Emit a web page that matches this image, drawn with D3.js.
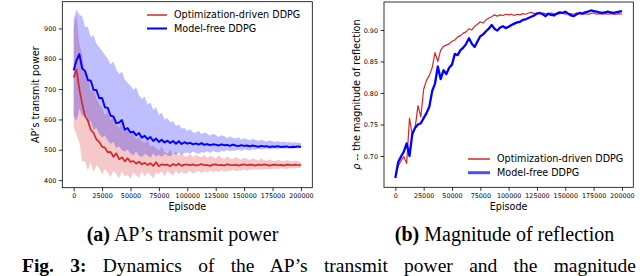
<!DOCTYPE html>
<html>
<head>
<meta charset="utf-8">
<script src="https://cdn.jsdelivr.net/npm/d3@7"></script>
<style>
  html, body { margin: 0; padding: 0; background: #fff; }
  svg { display: block; }
  .tick text { font-family: "DejaVu Sans", sans-serif; }
</style>
</head>
<body>
<div id="chart"></div>
<script>
// episodes sampled every 2500
const episodes = [0, 2500, 5000, 7500, 10000, 12500, 15000, 17500, 20000, 22500, 25000, 27500, 30000, 32500, 35000, 37500, 40000, 42500, 45000, 47500,
  50000, 52500, 55000, 57500, 60000, 62500, 65000, 67500, 70000, 72500, 75000, 77500, 80000, 82500, 85000, 87500, 90000, 92500, 95000, 97500,
  100000, 102500, 105000, 107500, 110000, 112500, 115000, 117500, 120000, 122500, 125000, 127500, 130000, 132500, 135000, 137500, 140000, 142500, 145000, 147500,
  150000, 152500, 155000, 157500, 160000, 162500, 165000, 167500, 170000, 172500, 175000, 177500, 180000, 182500, 185000, 187500, 190000, 192500, 195000, 197500, 200000];

const xTicks = [0, 25000, 50000, 75000, 100000, 125000, 150000, 175000, 200000];
const powerTicks = [400, 500, 600, 700, 800, 900];
const rhoTicks = [0.70, 0.75, 0.80, 0.85, 0.90];

// (a) AP's transmit power -- optimization-driven DDPG
const optPower = [738, 765, 700, 652, 610, 596, 566, 556, 534, 526, 510, 507, 492, 493, 477, 488, 469, 475, 462, 472,
  460, 463, 454, 461, 452, 457, 450, 456, 447, 459, 446, 452, 450, 451, 446, 453, 448, 454, 447, 451,
  451, 449, 452, 448, 450, 453, 449, 450, 447, 451, 452, 449, 450, 448, 452, 450, 449, 451, 448, 450,
  452, 449, 451, 450, 448, 451, 449, 452, 450, 448, 450, 451, 449, 450, 448, 451, 450, 449, 451, 449, 450];
const optPowerHi = [905, 945, 850, 815, 750, 748, 690, 705, 668, 650, 640, 615, 625, 598, 610, 585, 572, 592, 560, 568,
  548, 562, 535, 540, 528, 522, 534, 510, 515, 505, 498, 512, 492, 488, 500, 484, 494, 480, 490, 478,
  478, 486, 476, 483, 479, 475, 484, 472, 480, 477, 471, 481, 474, 470, 478, 472, 469, 476, 471, 467,
  474, 470, 466, 472, 468, 465, 471, 466, 464, 469, 465, 463, 467, 464, 462, 466, 463, 461, 464, 462, 460];
const optPowerLo = [575, 548, 525, 462, 462, 432, 458, 425, 450, 440, 418, 436, 425, 410, 432, 420, 405, 428, 412, 418,
  404, 427, 415, 408, 428, 412, 426, 418, 405, 425, 420, 429, 412, 430, 422, 416, 431, 419, 428, 421,
  424, 430, 421, 427, 431, 423, 429, 425, 432, 426, 430, 427, 433, 428, 431, 429, 434, 430, 432, 431,
  435, 432, 434, 433, 436, 434, 435, 435, 437, 436, 437, 438, 436, 439, 438, 437, 440, 438, 441, 439, 440];

// (a) AP's transmit power -- model-free DDPG
const freePower = [762, 795, 815, 768, 760, 730, 728, 698, 697, 670, 671, 640, 638, 612, 610, 588, 590, 598, 566, 572,
  557, 560, 548, 555, 540, 546, 535, 542, 529, 537, 526, 533, 524, 530, 522, 529, 520, 528, 519, 525,
  520, 523, 518, 521, 517, 522, 516, 519, 515, 518, 517, 514, 518, 515, 516, 513, 517, 514, 512, 515,
  513, 514, 511, 514, 512, 510, 513, 511, 512, 509, 511, 510, 512, 509, 510, 511, 508, 510, 509, 511, 509];
const freePowerHi = [930, 962, 945, 940, 905, 905, 872, 878, 850, 838, 826, 812, 800, 782, 790, 765, 750, 758, 732, 720,
  712, 698, 705, 680, 668, 675, 650, 655, 632, 640, 615, 622, 600, 605, 590, 595, 578, 583, 570, 572,
  562, 568, 558, 556, 563, 551, 557, 554, 546, 553, 549, 542, 548, 545, 538, 544, 540, 537, 541, 534,
  538, 535, 531, 536, 532, 529, 533, 530, 527, 531, 528, 526, 529, 525, 527, 524, 526, 523, 525, 523, 522];
const freePowerLo = [612, 595, 635, 612, 615, 590, 595, 565, 572, 552, 540, 548, 530, 520, 525, 505, 512, 498, 494, 500,
  488, 482, 494, 480, 476, 486, 482, 474, 488, 478, 484, 476, 486, 482, 478, 488, 484, 490, 483, 489,
  491, 487, 494, 489, 486, 493, 490, 495, 489, 496, 493, 491, 497, 494, 499, 495, 498, 497, 500, 496,
  501, 499, 498, 502, 500, 503, 501, 502, 504, 501, 503, 504, 502, 505, 503, 504, 505, 503, 506, 504, 505];

// (b) magnitude of reflection
const optRho = [0.667, 0.684, 0.692, 0.699, 0.688, 0.760, 0.733, 0.745, 0.780, 0.762, 0.806, 0.820, 0.828, 0.840, 0.864, 0.850, 0.868, 0.874, 0.876, 0.878,
  0.882, 0.884, 0.889, 0.891, 0.895, 0.897, 0.902, 0.900, 0.906, 0.909, 0.913, 0.911, 0.916, 0.919, 0.921, 0.924, 0.922, 0.924, 0.923, 0.925,
  0.924, 0.925, 0.923, 0.925, 0.924, 0.926, 0.925, 0.927, 0.928, 0.926, 0.927, 0.926, 0.927, 0.926, 0.925, 0.927, 0.926, 0.925, 0.926, 0.927,
  0.925, 0.926, 0.926, 0.925, 0.927, 0.926, 0.925, 0.926, 0.925, 0.926, 0.927, 0.925, 0.926, 0.925, 0.926, 0.925, 0.926, 0.925, 0.925, 0.926, 0.925];
const freeRho = [0.665, 0.690, 0.699, 0.707, 0.720, 0.700, 0.735, 0.745, 0.750, 0.752, 0.760, 0.768, 0.778, 0.803, 0.815, 0.842, 0.822, 0.836, 0.830, 0.840,
  0.845, 0.862, 0.860, 0.868, 0.872, 0.878, 0.887, 0.878, 0.873, 0.882, 0.890, 0.893, 0.898, 0.902, 0.908, 0.902, 0.899, 0.904, 0.906, 0.903,
  0.905, 0.908, 0.910, 0.912, 0.913, 0.916, 0.917, 0.919, 0.921, 0.923, 0.926, 0.927, 0.925, 0.922, 0.926, 0.924, 0.923, 0.926, 0.928, 0.927,
  0.929, 0.926, 0.923, 0.922, 0.925, 0.927, 0.926, 0.928, 0.929, 0.931, 0.930, 0.929, 0.928, 0.927, 0.928, 0.929, 0.928, 0.927, 0.928, 0.929, 0.930];

const RED = "#d62728", BLUE = "#0000ff";
const FONT = "DejaVu Sans, sans-serif";

const svg = d3.select("#chart").append("svg")
    .attr("width", 640)
    .attr("height", 276);

function drawPanel(opt) {
    const x = d3.scaleLinear().domain([-10000, 210000]).range(opt.xRange);
    const y = d3.scaleLinear().domain(opt.yDomain).range(opt.yRange);
    const g = svg.append("g");

    // shaded bands first
    opt.bands.forEach(b => {
        g.append("path")
            .datum(episodes.map((e, i) => [e, b.lo[i], b.hi[i]]))
            .attr("fill", b.color)
            .attr("fill-opacity", 0.25)
            .attr("d", d3.area().x(d => x(d[0])).y0(d => y(d[1])).y1(d => y(d[2])));
    });

    opt.lines.forEach(l => {
        g.append("path")
            .datum(episodes.map((e, i) => [e, l.values[i]]))
            .attr("fill", "none")
            .attr("stroke", l.color)
            .attr("stroke-width", l.width)
            .attr("stroke-linejoin", "round")
            .attr("d", d3.line().x(d => x(d[0])).y(d => y(d[1])));
    });

    // axes
    const xAxis = g.append("g")
        .attr("transform", `translate(0,${opt.yRange[0]})`)
        .call(d3.axisBottom(x).tickValues(xTicks).tickFormat(d3.format("d")).tickSize(3.5).tickPadding(2.5));
    const yAxis = g.append("g")
        .attr("transform", `translate(${opt.xRange[0]},0)`)
        .call(d3.axisLeft(y).tickValues(opt.yTicks).tickFormat(opt.yFormat).tickSize(3.5).tickPadding(2.5));
    [xAxis, yAxis].forEach(a => {
        a.select(".domain").remove();
        a.selectAll("line").attr("stroke", "#000").attr("stroke-width", 0.8);
        a.selectAll("text").style("font-size", "6.4px").attr("fill", "#000");
    });

    // frame
    g.append("rect")
        .attr("x", opt.xRange[0])
        .attr("y", opt.yRange[1])
        .attr("width", opt.xRange[1] - opt.xRange[0])
        .attr("height", opt.yRange[0] - opt.yRange[1])
        .attr("fill", "none")
        .attr("stroke", "#000")
        .attr("stroke-width", 0.8);

    // axis labels
    g.append("text")
        .attr("x", (x(0) + x(200000)) / 2)
        .attr("y", 209.5)
        .attr("text-anchor", "middle")
        .style("font-family", FONT)
        .style("font-size", "9.6px")
        .text("Episode");

    const yl = g.append("text")
        .attr("transform", `translate(${opt.yLabelX},${(opt.yRange[0] + opt.yRange[1]) / 2}) rotate(-90)`)
        .attr("text-anchor", "middle")
        .attr("dy", "0.35em")
        .style("font-family", FONT)
        .style("font-size", "9.6px");
    opt.yLabel(yl);

    // legend
    opt.legend.items.forEach((it, i) => {
        const ly = opt.legend.y + i * opt.legend.step;
        g.append("line")
            .attr("x1", opt.legend.x).attr("x2", opt.legend.x + opt.legend.len)
            .attr("y1", ly).attr("y2", ly)
            .attr("stroke", it.color)
            .attr("stroke-width", it.width)
            .attr("stroke-opacity", it.alpha || 1);
        g.append("text")
            .attr("x", opt.legend.x + opt.legend.len + 7)
            .attr("y", ly)
            .attr("dy", "0.35em")
            .style("font-family", FONT)
            .style("font-size", "9.6px")
            .text(it.label);
    });

    // caption
    const cap = svg.append("text")
        .attr("x", opt.capX)
        .attr("y", 241)
        .attr("text-anchor", "middle")
        .style("font-family", "Liberation Serif, serif")
        .style("font-size", "20px");
    cap.append("tspan").style("font-weight", "bold").text(opt.capTag);
    cap.append("tspan").text(" " + opt.capText);
}

drawPanel({
    xRange: [62.3, 312.3],
    yDomain: [375, 988],
    yRange: [187.7, 1.7],
    yTicks: powerTicks,
    yFormat: d3.format("d"),
    yLabelX: 36,
    yLabel: t => t.text("AP\u2019s transmit power"),
    bands: [
        { lo: optPowerLo, hi: optPowerHi, color: RED },
        { lo: freePowerLo, hi: freePowerHi, color: BLUE }
    ],
    lines: [
        { values: optPower, color: RED, width: 1.7 },
        { values: freePower, color: BLUE, width: 1.9 }
    ],
    legend: {
        x: 147, y: 15, step: 13.5, len: 20,
        items: [
            { label: "Optimization-driven DDPG", color: RED, width: 1.5 },
            { label: "Model-free DDPG", color: BLUE, width: 2 }
        ]
    },
    capX: 182.5,
    capTag: "(a)",
    capText: "AP\u2019s transmit power"
});

drawPanel({
    xRange: [384, 633.3],
    yDomain: [0.6503, 0.9444],
    yRange: [187.3, 2],
    yTicks: rhoTicks,
    yFormat: d3.format(".2f"),
    yLabelX: 356.7,
    yLabel: t => {
        t.append("tspan").style("font-style", "italic").text("\u03c1");
        t.append("tspan").text(" -- the magnitude of reflection");
    },
    bands: [],
    lines: [
        { values: optRho, color: RED, width: 1.2 },
        { values: freeRho, color: BLUE, width: 2.3 }
    ],
    legend: {
        x: 468, y: 159, step: 13.7, len: 22,
        items: [
            { label: "Optimization-driven DDPG", color: RED, width: 1.5 },
            { label: "Model-free DDPG", color: BLUE, width: 3, alpha: 0.7 }
        ]
    },
    capX: 504.5,
    capTag: "(b)",
    capText: "Magnitude of reflection"
});

// figure caption, justified across the width
const fig = svg.append("text")
    .attr("x", 22)
    .attr("y", 271.5)
    .style("font-family", "Liberation Serif, serif")
    .style("font-size", "19.5px");
fig.append("tspan").style("font-weight", "bold").text("Fig. 3:");
fig.append("tspan").text(" Dynamics of the AP\u2019s transmit power and the magnitude");
const natural = fig.node().getComputedTextLength();
fig.style("word-spacing", `${Math.max(0, (636 - 22 - natural) / 10)}px`);
</script>
</body>
</html>
